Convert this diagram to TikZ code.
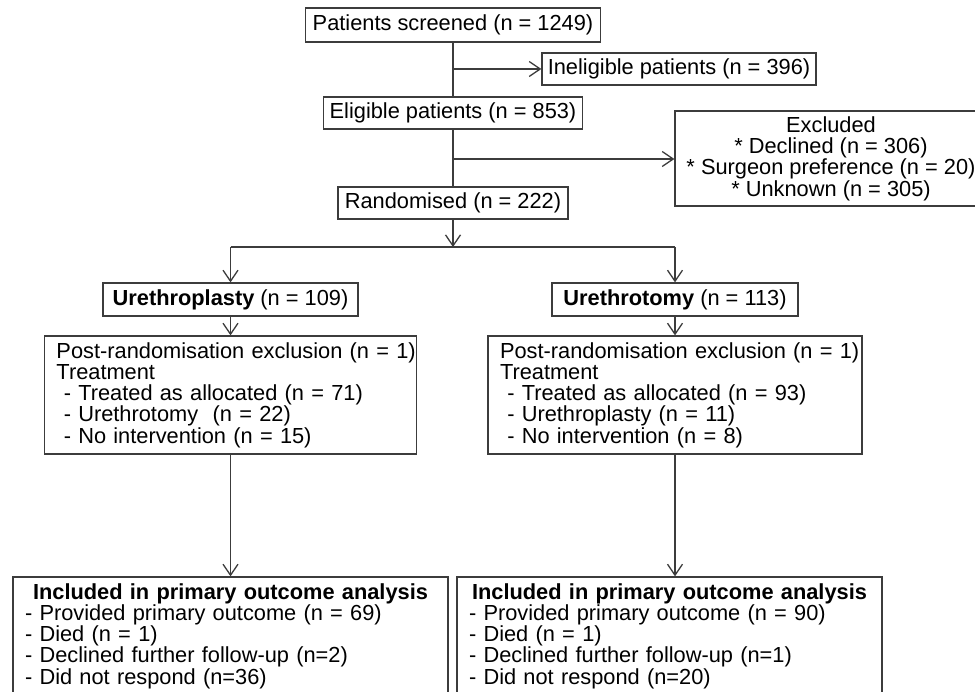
\documentclass[tikz,border=0pt]{standalone}
\usepackage{fontspec}
\setmainfont{Liberation Sans}
\usetikzlibrary{arrows.meta}
\setlength{\parindent}{0pt}
\definecolor{linec}{RGB}{60,60,60}
\begin{document}
\begin{tikzpicture}[x=1pt,y=-1pt,
  box/.style={draw=linec, line width=1.3pt, inner sep=0pt, text=black,
    font=\fontsize{21.8}{21.25}\selectfont, align=center},
  lbox/.style={box, align=left, minimum height=118pt},
  ln/.style={draw=linec, line width=1.3pt},
  arr/.style={ln, -{Straight Barb[length=11pt,width=15pt]}}]
\useasboundingbox (0,0) rectangle (975,692);
\fill[white] (0,0) rectangle (975,692);
\clip (0,0) rectangle (975,692);

\node[box, minimum width=295pt, minimum height=34pt] (scr) at (453,25) {Patients screened (n = 1249)};
\node[box, minimum width=274pt, minimum height=32pt] (inel) at (679,69) {Ineligible patients (n = 396)};
\node[box, minimum width=259pt, minimum height=32pt] (elig) at (453,113) {Eligible patients (n = 853)};
\node[box, minimum width=312pt, minimum height=95pt] (excl) at (831,158.5) {Excluded\\* Declined (n = 306)\\* Surgeon preference (n = 20)\\* Unknown (n = 305)};
\node[box, minimum width=230pt, minimum height=32pt] (rand) at (453,203) {Randomised (n = 222)};
\node[box, minimum width=255pt, minimum height=33pt] (uplasty) at (230.5,299.5) {\textbf{Urethroplasty} (n = 109)};
\node[box, minimum width=246pt, minimum height=33pt] (utomy) at (675,299.5) {\textbf{Urethrotomy} (n = 113)};

\node[lbox, text width=372pt] (mid1) at (230.5,395) {\hspace*{12pt}Post-randomisation exclusion (n = 1)\\
\hspace*{12pt}Treatment\\
\hspace*{12pt}\ - Treated as allocated (n = 71)\\
\hspace*{12pt}\ - Urethrotomy\ \ (n = 22)\\
\hspace*{12pt}\ - No intervention (n = 15)};
\node[lbox, text width=374pt] (mid2) at (675,395) {\hspace*{12pt}Post-randomisation exclusion (n = 1)\\
\hspace*{12pt}Treatment\\
\hspace*{12pt}\ - Treated as allocated (n = 93)\\
\hspace*{12pt}\ - Urethroplasty (n = 11)\\
\hspace*{12pt}\ - No intervention (n = 8)};

\node[lbox, text width=435pt] (bot1) at (230.5,636) {\makebox[\hsize]{\textbf{Included in primary outcome analysis}}\\
\hspace*{12pt}- Provided primary outcome (n = 69)\\
\hspace*{12pt}- Died (n = 1)\\
\hspace*{12pt}- Declined further follow-up (n=2)\\
\hspace*{12pt}- Did not respond (n=36)};
\node[lbox, text width=425pt] (bot2) at (669.5,636) {\makebox[\hsize]{\textbf{Included in primary outcome analysis}}\\
\hspace*{12pt}- Provided primary outcome (n = 90)\\
\hspace*{12pt}- Died (n = 1)\\
\hspace*{12pt}- Declined further follow-up (n=1)\\
\hspace*{12pt}- Did not respond (n=20)};

\coordinate (j1) at (453,69);
\coordinate (j2) at (453,159);
\coordinate (j3) at (453,247);
\coordinate (jl) at (230.5,247);
\coordinate (jr) at (675,247);

\draw[ln] (scr.south) -- (elig.north);
\draw[arr] (j1) -- (j1 -| inel.west);
\draw[ln] (elig.south) -- (rand.north);
\draw[arr] (j2) -- (j2 -| excl.west);
\draw[arr] (rand.south) -- (j3);
\draw[ln] (jl) -- (jr);
\draw[arr] (jl) -- (uplasty.north);
\draw[arr] (jr) -- (utomy.north);
\draw[arr] (uplasty.south) -- (mid1.north);
\draw[arr] (utomy.south) -- (mid2.north);
\draw[arr] (mid1.south) -- (mid1.south |- bot1.north);
\draw[arr] (mid2.south) -- (mid2.south |- bot2.north);
\end{tikzpicture}
\end{document}
